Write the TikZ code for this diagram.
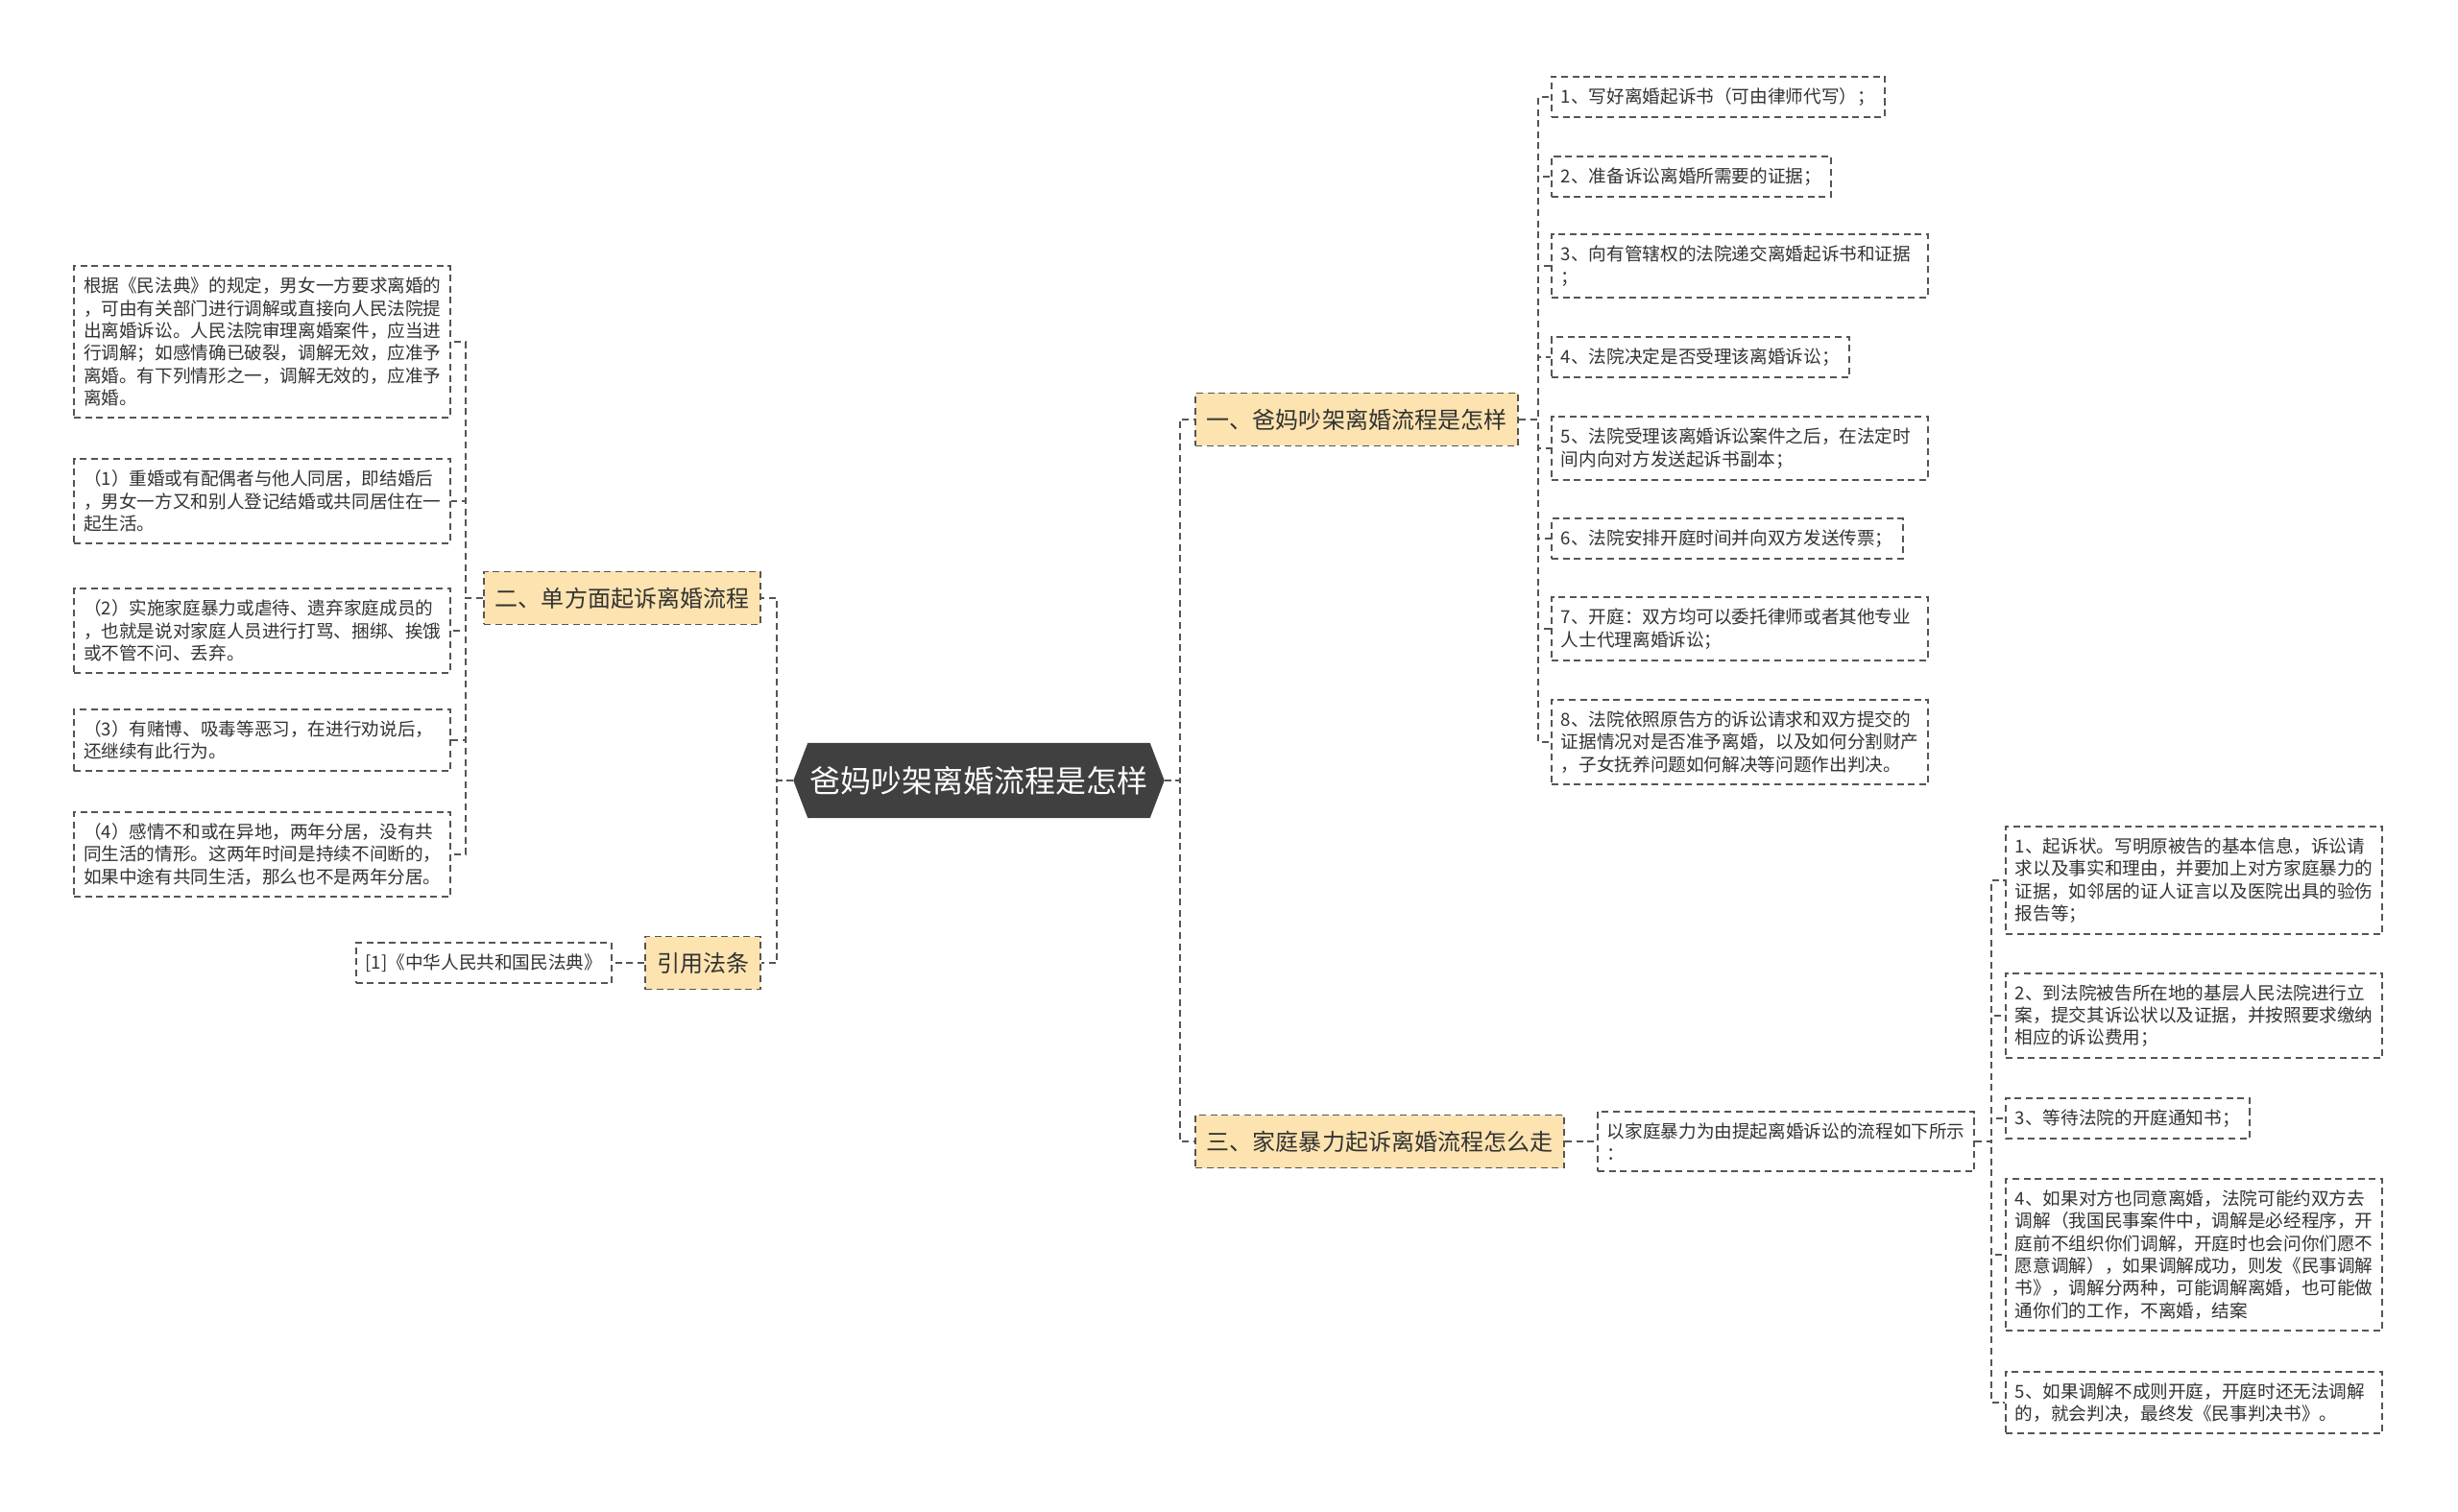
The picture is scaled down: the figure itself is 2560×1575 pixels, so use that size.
\documentclass[tikz,border=0pt]{standalone}
\usepackage{fontspec}
\setmainfont{Noto Sans CJK SC}
\usepackage{xcolor}
\usetikzlibrary{positioning,backgrounds}

\definecolor{linegray}{HTML}{555555}
\definecolor{textgray}{HTML}{333333}
\definecolor{branchfill}{HTML}{FCE3B0}
\definecolor{rootfill}{HTML}{404040}

\tikzset{
  dash line/.style={draw=linegray, line width=0.55pt, dash pattern=on 2pt off 1.3pt},
  conn/.style={dash line},
  leaf/.style={dash line, fill=white, text=textgray, align=left, inner xsep=1mm, inner ysep=3.3pt,
    minimum height=4.2mm, font=\fontsize{5.3pt}{6.65pt}\selectfont},
  wideleaf/.style={leaf, text width=37.2mm},
  branch/.style={dash line, fill=branchfill, text=textgray, inner xsep=1.2mm, minimum height=5.5mm,
    font=\fontsize{6.83pt}{8pt}\selectfont},
  root/.style={text=white, minimum width=38.5mm, minimum height=7.7mm,
    font=\fontsize{9.1pt}{11pt}\selectfont}
}

\begin{document}
\begin{tikzpicture}[x=0.1mm, y=-0.1mm]
        \useasboundingbox (0,0) rectangle (2560,1575);

        % Central topic
        \node[root] (root) at (1019.5,813) {爸妈吵架离婚流程是怎样};
        \begin{scope}[on background layer]
            \fill[rootfill] ([xshift=1.5mm]root.north west) -- ([xshift=-1.5mm]root.north east)
                -- (root.east) -- ([xshift=-1.5mm]root.south east)
                -- ([xshift=1.5mm]root.south west) -- (root.west) -- cycle;
        \end{scope}

        % Main branches
        \node[branch, anchor=west] (b1) at (1244,437) {一、爸妈吵架离婚流程是怎样};
        \node[branch, anchor=east] (b2) at (793,623) {二、单方面起诉离婚流程};
        \node[branch, anchor=east] (cite) at (793,1003) {引用法条};
        \node[branch, anchor=west] (b3) at (1244,1189) {三、家庭暴力起诉离婚流程怎么走};

        % Left: one-sided divorce suit
        \node[wideleaf, anchor=east] (a1) at (470,356) {根据《民法典》的规定，男女一方要求离婚的\\，可由有关部门进行调解或直接向人民法院提\\出离婚诉讼。人民法院审理离婚案件，应当进\\行调解；如感情确已破裂，调解无效，应准予\\离婚。有下列情形之一，调解无效的，应准予\\离婚。};
        \node[wideleaf, anchor=east] (a2) at (470,522) {（1）重婚或有配偶者与他人同居，即结婚后\\，男女一方又和别人登记结婚或共同居住在一\\起生活。};
        \node[wideleaf, anchor=east] (a3) at (470,657) {（2）实施家庭暴力或虐待、遗弃家庭成员的\\，也就是说对家庭人员进行打骂、捆绑、挨饿\\或不管不问、丢弃。};
        \node[wideleaf, anchor=east] (a4) at (470,771) {（3）有赌博、吸毒等恶习，在进行劝说后，\\还继续有此行为。};
        \node[wideleaf, anchor=east] (a5) at (470,890) {（4）感情不和或在异地，两年分居，没有共\\同生活的情形。这两年时间是持续不间断的，\\如果中途有共同生活，那么也不是两年分居。};

        % Left: cited law
        \node[leaf, anchor=east] (law) at (638,1003) {[1]《中华人民共和国民法典》};

        % Right: general procedure
        \node[leaf, anchor=west] (r1) at (1615,101) {1、写好离婚起诉书（可由律师代写）；};
        \node[leaf, anchor=west] (r2) at (1615,184) {2、准备诉讼离婚所需要的证据；};
        \node[wideleaf, anchor=west] (r3) at (1615,277) {3、向有管辖权的法院递交离婚起诉书和证据\\；};
        \node[leaf, anchor=west] (r4) at (1615,372) {4、法院决定是否受理该离婚诉讼；};
        \node[wideleaf, anchor=west] (r5) at (1615,467) {5、法院受理该离婚诉讼案件之后，在法定时\\间内向对方发送起诉书副本；};
        \node[leaf, anchor=west] (r6) at (1615,561) {6、法院安排开庭时间并向双方发送传票；};
        \node[wideleaf, anchor=west] (r7) at (1615,655) {7、开庭：双方均可以委托律师或者其他专业\\人士代理离婚诉讼；};
        \node[wideleaf, anchor=west] (r8) at (1615,773) {8、法院依照原告方的诉讼请求和双方提交的\\证据情况对是否准予离婚，以及如何分割财产\\，子女抚养问题如何解决等问题作出判决。};

        % Right: domestic violence procedure
        \node[wideleaf, anchor=west] (c3) at (1663,1189) {以家庭暴力为由提起离婚诉讼的流程如下所示\\：};
        \node[wideleaf, anchor=west] (s1) at (2088,917) {1、起诉状。写明原被告的基本信息，诉讼请\\求以及事实和理由，并要加上对方家庭暴力的\\证据，如邻居的证人证言以及医院出具的验伤\\报告等；};
        \node[wideleaf, anchor=west] (s2) at (2088,1058) {2、到法院被告所在地的基层人民法院进行立\\案，提交其诉讼状以及证据，并按照要求缴纳\\相应的诉讼费用；};
        \node[leaf, anchor=west] (s3) at (2088,1165) {3、等待法院的开庭通知书；};
        \node[wideleaf, anchor=west] (s4) at (2088,1307) {4、如果对方也同意离婚，法院可能约双方去\\调解（我国民事案件中，调解是必经程序，开\\庭前不组织你们调解，开庭时也会问你们愿不\\愿意调解），如果调解成功，则发《民事调解\\书》，调解分两种，可能调解离婚，也可能做\\通你们的工作，不离婚，结案};
        \node[wideleaf, anchor=west] (s5) at (2088,1461) {5、如果调解不成则开庭，开庭时还无法调解\\的，就会判决，最终发《民事判决书》。};

        % Connectors
        \foreach \b in {b2,cite}
            \draw[conn] (root.west) -- ++(-17,0) |- (\b.east);
        \foreach \b in {b1,b3}
            \draw[conn] (root.east) -- ++(16,0) |- (\b.west);
        \foreach \i in {1,...,5}
            \draw[conn] (b2.west) -- ++(-18,0) |- (a\i.east);
        \draw[conn] (cite.west) -- (law.east);
        \foreach \i in {1,...,8}
            \draw[conn] (b1.east) -- ++(20,0) |- (r\i.west);
        \draw[conn] (b3.east) -- (c3.west);
        \foreach \i in {1,...,5}
            \draw[conn] (c3.east) -- ++(17,0) |- (s\i.west);

    \end{tikzpicture}
\end{document}
